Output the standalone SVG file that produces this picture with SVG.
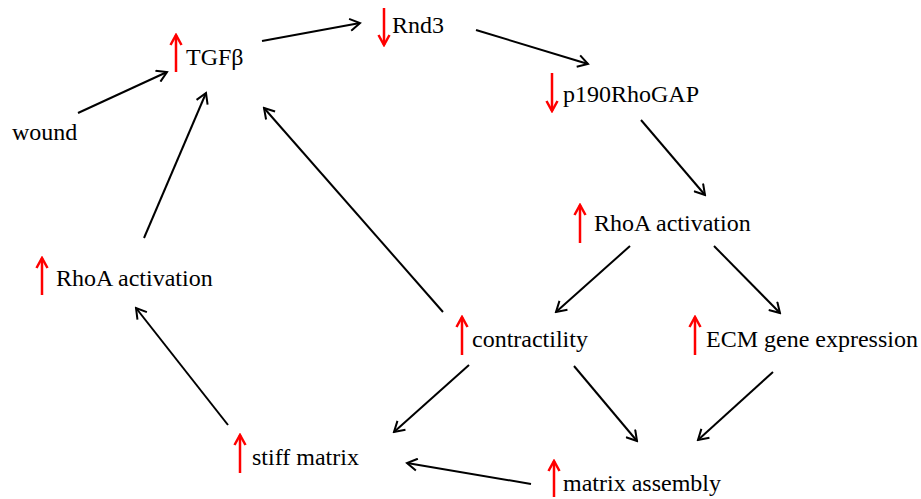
<svg xmlns="http://www.w3.org/2000/svg" width="921" height="499" viewBox="0 0 921 499">
<style>
text{font-family:"Liberation Serif","Times New Roman",serif;font-size:24px;fill:#000}
.c line{stroke:#000;stroke-width:2;fill:none;marker-end:url(#ah)}
.u{stroke:#f00;stroke-width:2.5;fill:none;marker-end:url(#rh)}
</style>
<defs>
<marker id="ah" markerUnits="userSpaceOnUse" viewBox="-12 -7 14 14" refX="0" refY="0" markerWidth="14" markerHeight="14" orient="auto">
<path d="M-10,-6 L0,0 L-10,6" fill="none" stroke="#000" stroke-width="2"/>
</marker>
<marker id="rh" markerUnits="userSpaceOnUse" viewBox="-12 -7 14 14" refX="0" refY="0" markerWidth="14" markerHeight="14" orient="auto">
<path d="M-10,-5.5 L0,0 L-10,5.5" fill="none" stroke="#f00" stroke-width="2.5"/>
</marker>
</defs>
<rect width="921" height="499" fill="#fff"/>
<g class="c" id="connectors">
<line x1="78" y1="113" x2="167" y2="72"/>
<line x1="262" y1="41" x2="360" y2="23"/>
<line x1="476" y1="30" x2="588" y2="64"/>
<line x1="641" y1="120" x2="705" y2="195"/>
<line x1="630" y1="246" x2="556" y2="312"/>
<line x1="714" y1="246" x2="780" y2="313"/>
<line x1="443" y1="312" x2="264" y2="108"/>
<line x1="469" y1="365" x2="394" y2="432"/>
<line x1="574" y1="366" x2="637" y2="441"/>
<line x1="773" y1="372" x2="698" y2="440"/>
<line x1="531" y1="484" x2="407" y2="463"/>
<line x1="228" y1="425" x2="136" y2="308"/>
<line x1="144" y1="238" x2="206" y2="93"/>
</g>
<g id="wound"><text x="12" y="140">wound</text></g>
<g id="tgfb"><line class="u" x1="176" y1="72" x2="176" y2="35"/><text x="186" y="65">TGFβ</text></g>
<g id="rnd3"><line class="u" x1="384" y1="8" x2="384" y2="45"/><text x="392" y="33">Rnd3</text></g>
<g id="p190"><line class="u" x1="552" y1="73" x2="552" y2="111"/><text x="563" y="102">p190RhoGAP</text></g>
<g id="rhoa-right"><line class="u" x1="580" y1="243" x2="580" y2="205"/><text x="594" y="231">RhoA activation</text></g>
<g id="rhoa-left"><line class="u" x1="42" y1="295" x2="42" y2="258"/><text x="56" y="286">RhoA activation</text></g>
<g id="contractility"><line class="u" x1="462" y1="355" x2="462" y2="317"/><text x="472" y="347">contractility</text></g>
<g id="ecm"><line class="u" x1="695" y1="355" x2="695" y2="317"/><text x="706" y="347">ECM gene expression</text></g>
<g id="stiff"><line class="u" x1="240" y1="473" x2="240" y2="435"/><text x="252" y="465">stiff matrix</text></g>
<g id="assembly"><line class="u" x1="554" y1="497" x2="554" y2="461"/><text x="563" y="491">matrix assembly</text></g>
</svg>
